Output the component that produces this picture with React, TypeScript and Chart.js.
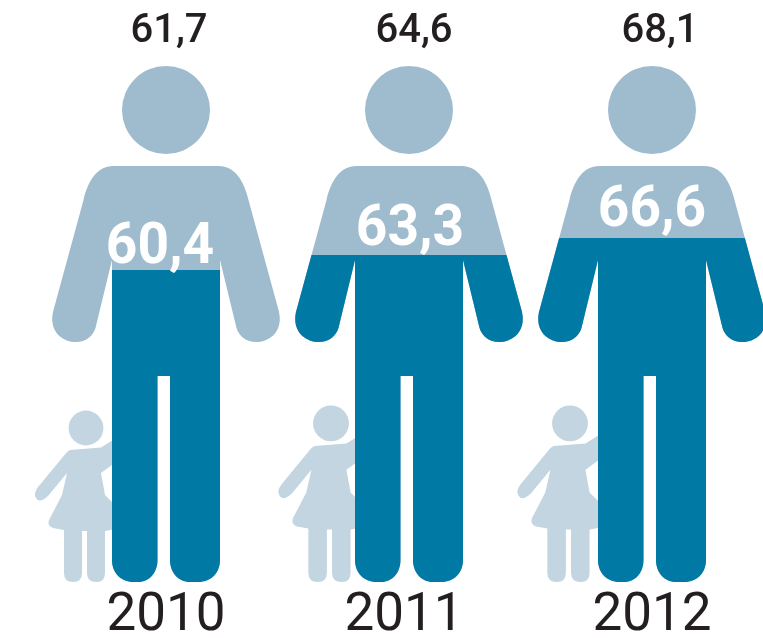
import React, { useEffect, useRef } from "react";
import { Chart, registerables } from "chart.js";

Chart.register(...registerables);

const years = ["2010", "2011", "2012"];
const topValues = [61.7, 64.6, 68.1];
const fillValues = [60.4, 63.3, 66.6];
const wholePerson = [100, 100, 100];
const armsFilled = [false, true, true];

const LIGHT = "#9fbccf";
const DARK = "#0079a5";
const CHILD = "#c3d5e0";
const INK = "#231f20";

const childOffsets = [-80, -78, -82];
const childScales = [1, 1.03, 1.03];
const topNudges = [3, 5, 8];
const innerNudges = [-6, 1, 0];
const innerLift = [7, 10, 12];
const yearNudges = [0, -5, 0];

const fmt = (v: number) => v.toFixed(1).replace(".", ",");

function addLegs(p: Path2D, X: (d: number) => number, Y: (d: number) => number) {
  p.lineTo(X(54), Y(22));
  p.bezierCurveTo(X(54), Y(10), X(46), Y(0), X(32), Y(0));
  p.lineTo(X(24), Y(0));
  p.bezierCurveTo(X(12), Y(0), X(4), Y(10), X(4), Y(22));
  p.lineTo(X(4), Y(206));
  p.lineTo(X(-8.5), Y(206));
  p.lineTo(X(-8.5), Y(22));
  p.bezierCurveTo(X(-8.5), Y(10), X(-16), Y(0), X(-28), Y(0));
  p.lineTo(X(-32), Y(0));
  p.bezierCurveTo(X(-46), Y(0), X(-54), Y(10), X(-54), Y(22));
}

// silhouette of the man; dy is measured up from the feet (chart bottom)
function addMan(p: Path2D, cx: number, b: number, arms: boolean) {
  const X = (d: number) => cx + d;
  const Y = (d: number) => b - d;
  if (!arms) {
    p.moveTo(X(-54), Y(416));
    p.lineTo(X(54), Y(416));
    addLegs(p, X, Y);
    p.closePath();
    return;
  }
  p.moveTo(X(44), Y(472));
  p.arc(cx, Y(472), 44, 0, Math.PI * 2);
  p.closePath();
  p.moveTo(X(-53), Y(416));
  p.lineTo(X(53), Y(416));
  p.bezierCurveTo(X(68), Y(416), X(78), Y(402), X(82.5), Y(382));
  p.lineTo(X(112.5), Y(272));
  p.bezierCurveTo(X(118), Y(252), X(105), Y(240), X(90), Y(240));
  p.bezierCurveTo(X(80), Y(240), X(73), Y(246), X(70.5), Y(254));
  p.lineTo(X(54), Y(322));
  addLegs(p, X, Y);
  p.lineTo(X(-54), Y(322));
  p.lineTo(X(-70.5), Y(254));
  p.bezierCurveTo(X(-73), Y(246), X(-80), Y(240), X(-90), Y(240));
  p.bezierCurveTo(X(-105), Y(240), X(-118), Y(252), X(-112.5), Y(272));
  p.lineTo(X(-82.5), Y(382));
  p.bezierCurveTo(X(-78), Y(402), X(-68), Y(416), X(-53), Y(416));
  p.closePath();
}

// child; coordinates relative to the head centre x and the feet
function drawChild(ctx: CanvasRenderingContext2D, cx: number, b: number, s: number) {
  const X = (d: number) => cx + d * s;
  const Y = (d: number) => b - d * s;
  ctx.fillStyle = CHILD;
  ctx.beginPath();
  ctx.arc(cx, Y(154), 17.4 * s, 0, Math.PI * 2);
  ctx.fill();
  ctx.beginPath();
  ctx.moveTo(X(-16), Y(132));
  ctx.lineTo(X(15), Y(134.5));
  ctx.lineTo(X(30), Y(144));
  ctx.lineTo(X(30), Y(120));
  ctx.lineTo(X(15), Y(109));
  ctx.lineTo(X(19), Y(87));
  ctx.lineTo(X(30), Y(76));
  ctx.lineTo(X(30), Y(53));
  ctx.lineTo(X(19), Y(51));
  ctx.lineTo(X(19), Y(9));
  ctx.quadraticCurveTo(X(19), Y(0), X(10.5), Y(0));
  ctx.quadraticCurveTo(X(1), Y(0), X(1), Y(9));
  ctx.lineTo(X(1), Y(51));
  ctx.lineTo(X(-4), Y(51));
  ctx.lineTo(X(-4), Y(9));
  ctx.quadraticCurveTo(X(-4), Y(0), X(-13), Y(0));
  ctx.quadraticCurveTo(X(-22), Y(0), X(-22), Y(9));
  ctx.lineTo(X(-22), Y(52));
  ctx.lineTo(X(-33), Y(54));
  ctx.quadraticCurveTo(X(-39), Y(56), X(-37), Y(62));
  ctx.lineTo(X(-24), Y(87));
  ctx.lineTo(X(-19), Y(109));
  ctx.lineTo(X(-38), Y(86));
  ctx.quadraticCurveTo(X(-47), Y(78), X(-50), Y(84));
  ctx.quadraticCurveTo(X(-53), Y(88), X(-48), Y(95));
  ctx.lineTo(X(-19), Y(130));
  ctx.closePath();
  ctx.fill();
}

const personPlugin = {
  id: "person",
  beforeDatasetsDraw(chart: any) {
    const { ctx, chartArea, scales } = chart;
    years.forEach((_, i) => {
      drawChild(ctx, scales.x.getPixelForValue(i) + childOffsets[i], chartArea.bottom, childScales[i]);
    });
  },
  beforeDatasetDraw(chart: any, args: any) {
    const { ctx, chartArea, scales } = chart;
    const isFill = args.index === 0;
    const clip = new Path2D();
    years.forEach((_, i) => {
      addMan(clip, scales.x.getPixelForValue(i), chartArea.bottom, isFill ? armsFilled[i] : true);
    });
    ctx.save();
    ctx.clip(clip);
  },
  afterDatasetDraw(chart: any) {
    chart.ctx.restore();
  },
  afterDatasetsDraw(chart: any) {
    const { ctx, scales } = chart;
    ctx.save();
    ctx.textAlign = "center";
    ctx.textBaseline = "alphabetic";
    years.forEach((_, i) => {
      const cx = scales.x.getPixelForValue(i);
      ctx.fillStyle = INK;
      ctx.font = "500 40px Roboto";
      ctx.fillText(fmt(topValues[i]), cx + topNudges[i], 42);
      ctx.fillStyle = "#ffffff";
      ctx.font = "700 58px Roboto";
      ctx.save();
      ctx.translate(cx + innerNudges[i], scales.y.getPixelForValue(fillValues[i]) - innerLift[i]);
      ctx.scale(0.95, 1);
      ctx.fillText(fmt(fillValues[i]), 0, 0);
      ctx.restore();
    });
    ctx.restore();
  },
  beforeDraw(chart: any) {
    const items = chart.scales.x.getLabelItems(chart.chartArea);
    items.forEach((it: any, i: number) => {
      it.options.translation = [it.options.translation[0] + yearNudges[i], it.options.translation[1]];
    });
  },
};

export default function App() {
  const ref = useRef<HTMLCanvasElement>(null);
  useEffect(() => {
    const chart = new Chart(ref.current as HTMLCanvasElement, {
      type: "bar",
      data: {
        labels: years,
        datasets: [
          { label: "Fill", data: fillValues, backgroundColor: DARK, clip: false, grouped: false, barThickness: 240, base: 0 } as any,
          { label: "Person", data: wholePerson, backgroundColor: LIGHT, clip: false, grouped: false, barThickness: 240, base: 0 } as any,
        ],
      },
      options: {
        responsive: false,
        animation: false,
        devicePixelRatio: 1,
        layout: { padding: { left: 166, right: 111, top: 66, bottom: 0 } },
        plugins: { legend: { display: false }, tooltip: { enabled: false }, title: { display: false } },
        scales: {
          x: {
            offset: false,
            grid: { display: false, drawTicks: false },
            border: { display: false },
            afterFit: (s: any) => { s.height = 56; },
            ticks: {
              color: INK,
              padding: 3,
              autoSkip: false,
              maxRotation: 0,
              font: { family: "Roboto", size: 53, weight: "400" },
            },
          },
          y: { display: false, min: 0, max: 100 },
        },
      } as any,
      plugins: [personPlugin],
    });
    return () => chart.destroy();
  }, []);
  return (
    <canvas
      ref={ref}
      width={763}
      height={638}
      style={{ position: "absolute", left: 0, top: 0, width: 763, height: 638, background: "#ffffff" }}
    />
  );
}
